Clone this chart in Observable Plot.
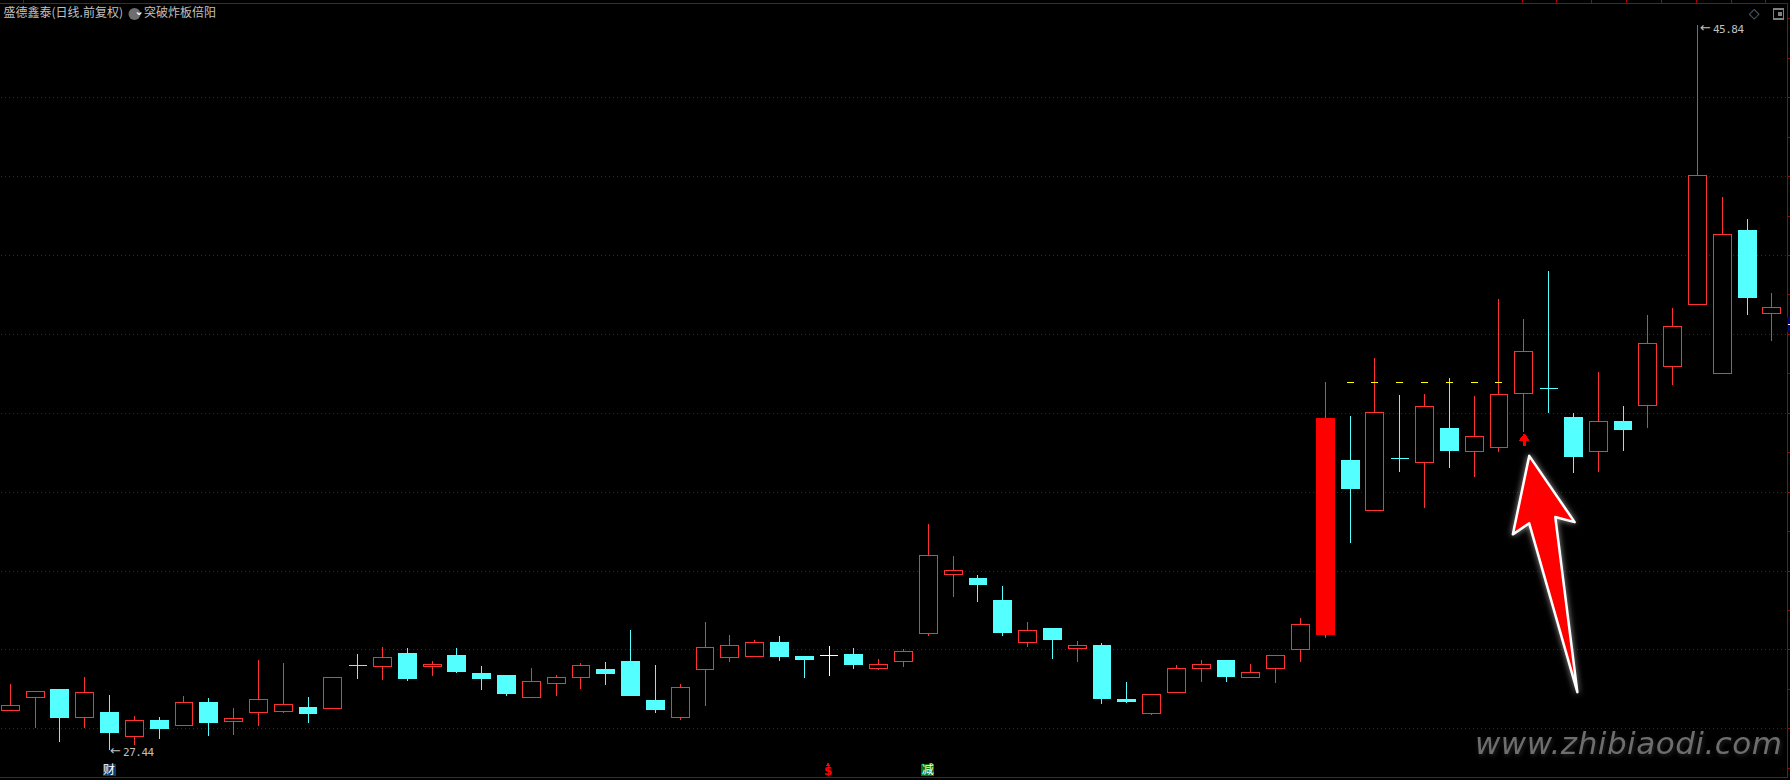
<!DOCTYPE html>
<html><head><meta charset="utf-8">
<style>html,body{margin:0;padding:0;background:#000;overflow:hidden}svg{display:block}</style>
<script src="https://cdn.jsdelivr.net/npm/d3@7"></script>
<script src="https://cdn.jsdelivr.net/npm/@observablehq/plot@0.6"></script>
</head><body><div id="c"></div>
<script>
const opens=[28.45,28.78,29.00,28.27,28.41,27.79,28.21,28.07,28.67,28.18,28.40,28.42,28.54,28.50,29.60,29.56,29.91,29.56,29.86,29.40,29.35,28.78,29.13,29.28,29.50,29.71,28.72,28.27,29.49,29.79,29.82,30.19,29.83,29.85,29.88,29.51,29.69,30.40,31.89,31.81,31.25,30.17,30.54,30.02,30.11,28.74,28.37,28.90,29.51,29.73,29.28,29.51,29.99,30.37,34.80,33.53,34.85,34.74,35.61,35.01,35.11,36.48,36.62,35.89,35.01,35.79,36.18,37.18,38.75,37.00,40.63,38.51];
const highs=[29.12,28.94,29.00,29.30,28.84,28.31,28.29,28.82,28.77,28.51,29.73,29.66,28.79,29.29,29.88,30.06,30.04,29.71,30.04,29.58,29.35,29.53,29.35,29.66,29.68,30.49,29.61,29.12,30.70,30.37,30.24,30.34,29.83,30.09,30.04,29.76,30.01,33.18,32.37,31.89,31.61,30.70,30.54,30.21,30.16,29.17,28.86,29.61,29.73,29.73,29.63,29.85,30.80,36.78,35.92,37.39,36.45,36.48,36.88,36.43,38.89,38.38,39.59,35.99,37.03,36.17,38.48,38.66,45.84,41.47,40.91,39.04];
const lows=[28.45,28.02,27.65,28.02,27.44,27.58,27.73,28.07,27.80,27.83,28.06,28.39,28.13,28.50,29.25,29.22,29.20,29.33,29.40,28.97,28.82,28.78,28.82,29.00,29.10,28.82,28.39,28.21,28.57,29.68,29.82,29.71,29.28,29.33,29.50,29.48,29.56,30.34,31.33,31.20,30.34,30.06,29.76,29.68,28.62,28.64,28.34,28.90,29.17,29.17,29.28,29.15,29.68,30.29,32.70,33.53,34.50,33.59,34.60,34.37,35.01,35.51,35.99,34.47,34.50,35.03,35.61,36.70,38.75,37.00,38.48,37.82];
const closes=[28.58,28.94,28.26,28.92,27.88,28.20,27.98,28.66,28.13,28.25,28.74,28.61,28.36,29.29,29.60,29.80,29.25,29.62,29.43,29.25,28.87,29.19,29.29,29.60,29.38,28.82,28.46,29.04,30.05,30.10,30.18,29.81,29.73,29.85,29.61,29.62,29.95,32.39,32.01,31.63,30.42,30.48,30.24,30.10,28.74,28.67,28.86,29.52,29.62,29.30,29.42,29.85,30.64,35.87,34.07,36.01,34.85,36.16,35.03,35.40,36.47,37.56,36.62,34.88,35.78,35.56,37.76,38.19,42.02,40.53,38.92,38.67];
const dojiTones=[[14,"#54ffff"],[33,"#ffffff"],[56,"#54ffff"],[62,"#54ffff"]];
const limitUpDays=[53];
const gridPrices=[28,30,32,34,36,38,40,42,44];
const axisPrices=[27,29,31,33,35,37,39,41,43,45,28,30,32,34,36,38,40,42,44,46];
const topTickIdx=[0.51,60.93,62.30,63.71,65.12,66.53,67.94,69.35,70.72];
const breakoutDays=[54,55,56,57,58,59,60];
const breakoutPrice=36.77;
const signalDay=61;
const signalArrowHead=[[60.82,35.31],[61.18,35.31],[61,35.46]];
const signalArrowStem=[35.17,35.31];
const bigArrowX=[61.20,60.54,61.20,63.14,62.25,63.03];
const bigArrowY=[34.92,32.93,33.21,28.93,33.37,33.24];
const lowMark={i:4,p:27.44};
const highMark={i:68,p:45.84};
const eventDays=[{i:4,label:"财",bg:"#0b3a6f"},{i:37,label:"减",bg:"#007a10"}];
const dollarDay=33;
const eventPrice=26.955;
const titleMain="盛德鑫泰(日线.前复权)";
const titleIndicator="突破炸板倍阳";
const watermark="www.zhibiaodi.com";

const UP="#ff3232",DOWN="#54ffff";
const dojiMap=new Map(dojiTones);
const candles=opens.map((o,i)=>({i,open:o,high:highs[i],low:lows[i],close:closes[i]}));
const isDoji=d=>d.open===d.close;
const isLimit=d=>limitUpDays.includes(d.i);
const tone=d=>dojiMap.get(d.i)||(d.close>d.open?UP:DOWN);
const hollow=candles.filter(d=>d.close>d.open&&!isLimit(d));
const solid=candles.filter(d=>d.close<d.open||isLimit(d));
const dojis=candles.filter(isDoji);
const bigArrow=bigArrowX.map((x,k)=>({x,y:bigArrowY[k]}));
const head=signalArrowHead.map(([x,y])=>({x,y}));
const GRAY="#c0c0c0",EDGE="#a80000";
const mono={textAnchor:"start",fill:GRAY,fontSize:11,fontFamily:"DejaVu Sans Mono"};
const arrowText={text:()=>"←",textAnchor:"start",fill:GRAY,fontSize:13,fontFamily:"DejaVu Sans"};

const chart=Plot.plot({
  width:1790,height:780,margin:0,
  style:{background:"#000",fontFamily:"'Noto Sans CJK SC',sans-serif"},
  x:{domain:[-0.415,71.73],range:[0,1790],axis:null},
  y:{domain:[26.689,46.466],range:[780,0],axis:null},
  marks:[
    Plot.ruleY(gridPrices,{x1:-0.38,x2:71.6,stroke:"#900000",strokeDasharray:"1,3",strokeWidth:1}),
    Plot.frame({insetTop:3,insetBottom:3,insetRight:3,insetLeft:-3,stroke:EDGE}),
    Plot.ruleY(axisPrices,{x1:71.61,x2:71.73,stroke:EDGE}),
    Plot.ruleX(topTickIdx,{y1:46.38,y2:46.466,stroke:EDGE}),
    Plot.rect([0],{x1:71.62,x2:71.73,y1:38.05,y2:38.43,fill:"#00007a"}),
    Plot.ruleY([38.24],{x1:71.66,x2:71.73,stroke:"#fff"}),
    Plot.ruleX(candles,{x:"i",y1:"low",y2:"high",stroke:tone,strokeWidth:1,dx:-0.5}),
    Plot.rect(hollow,{x1:d=>d.i-0.36,x2:d=>d.i+0.36,y1:"open",y2:"close",stroke:UP,strokeWidth:1,fill:"#000"}),
    Plot.rect(solid,{x1:d=>d.i-0.38,x2:d=>d.i+0.38,y1:"open",y2:"close",fill:d=>isLimit(d)?"#ff0000":DOWN}),
    Plot.ruleY(dojis,{x1:d=>d.i-0.36,x2:d=>d.i+0.36,y:"open",stroke:tone,strokeWidth:1}),
    Plot.ruleY(breakoutDays,{y:()=>breakoutPrice,x1:d=>d-0.14,x2:d=>d+0.14,stroke:"#ffff00",strokeWidth:1}),
    Plot.line(head,{x:"x",y:"y",curve:"linear-closed",fill:"#ff0000",stroke:"#ff0000"}),
    Plot.ruleX([signalDay],{y1:signalArrowStem[0],y2:signalArrowStem[1],stroke:"#ff0000",strokeWidth:3}),
    Plot.line(bigArrow,{x:"x",y:"y",curve:"linear-closed",fill:"#ff0000",stroke:"#ffffff",strokeWidth:2.5,strokeLinejoin:"round",imageFilter:"drop-shadow(0 0 3px rgba(255,255,255,.6))"}),
    Plot.text([lowMark],{x:"i",y:"p",...arrowText,dx:0}),
    Plot.text([lowMark],{x:"i",y:"p",text:d=>d.p.toFixed(2),...mono,dx:13,dy:1.5}),
    Plot.text([highMark],{x:"i",y:"p",...arrowText,dx:2,dy:2.5}),
    Plot.text([highMark],{x:"i",y:"p",text:d=>d.p.toFixed(2),...mono,dx:15,dy:4.5}),
    Plot.dot(eventDays,{x:"i",y:()=>eventPrice,symbol:"square",r:7.3,fill:"bg",dx:-1}),
    Plot.text(eventDays,{x:"i",y:()=>eventPrice,text:"label",fill:"#fff",fontSize:12,dx:-1}),
    Plot.text([dollarDay],{x:d=>d,y:()=>eventPrice,text:()=>"$",dx:-1.5,dy:1.5,fill:"#ff0000",fontSize:12,fontWeight:"bold",fontFamily:"DejaVu Sans"}),
    Plot.dot([dollarDay],{x:d=>d,y:()=>eventPrice,symbol:"triangle",r:1.8,dx:-1.5,dy:-5,fill:"#ff0000"}),
    Plot.text([titleMain],{frameAnchor:"top-left",dx:3,dy:13,textAnchor:"start",lineAnchor:"middle",fill:GRAY,fontSize:12}),
    Plot.dot([0],{frameAnchor:"top-left",dx:134,dy:13.5,r:6,fill:"#6e6e6e"}),
    Plot.text(["⌄"],{frameAnchor:"top-left",dx:134,dy:11,lineAnchor:"middle",fill:"#fff",fontSize:11,fontWeight:"bold",fontFamily:"DejaVu Sans"}),
    Plot.text([titleIndicator],{frameAnchor:"top-left",dx:143.5,dy:13,textAnchor:"start",lineAnchor:"middle",fill:GRAY,fontSize:12}),
    Plot.text(["◇"],{frameAnchor:"top-right",dx:-31,dy:13.5,lineAnchor:"middle",fill:"#707070",fontSize:14,fontFamily:"DejaVu Sans"}),
    Plot.dot([0],{frameAnchor:"top-right",dx:-12,dy:13.5,symbol:"square",r:5.8,stroke:"#808080",fill:"none",strokeWidth:1.5}),
    Plot.dot([0],{frameAnchor:"top-right",dx:-10.5,dy:13.5,symbol:"square",r:2.6,fill:"#808080"}),
    Plot.text([watermark],{frameAnchor:"bottom-right",dx:-8,dy:-27,textAnchor:"end",lineAnchor:"bottom",fill:"#6e6e6e",fontSize:31,fontStyle:"italic",fontFamily:"DejaVu Sans",imageFilter:"drop-shadow(1px 2px 2px rgba(120,120,120,.3))"})
  ]
});
document.getElementById("c").appendChild(chart);
d3.select(chart).selectAll("rect,line,path").style("shape-rendering",function(){
  const d=this.getAttribute("d");
  return d&&d.length>60?null:"crispEdges";
});
d3.select(chart).selectAll("text").each(function(){
  const t=this.textContent;
  if(t===watermark) this.style.letterSpacing="0.5px";
  if(t==="27.44"||t==="45.84") this.style.letterSpacing="-0.5px";
});
</script></body></html>
